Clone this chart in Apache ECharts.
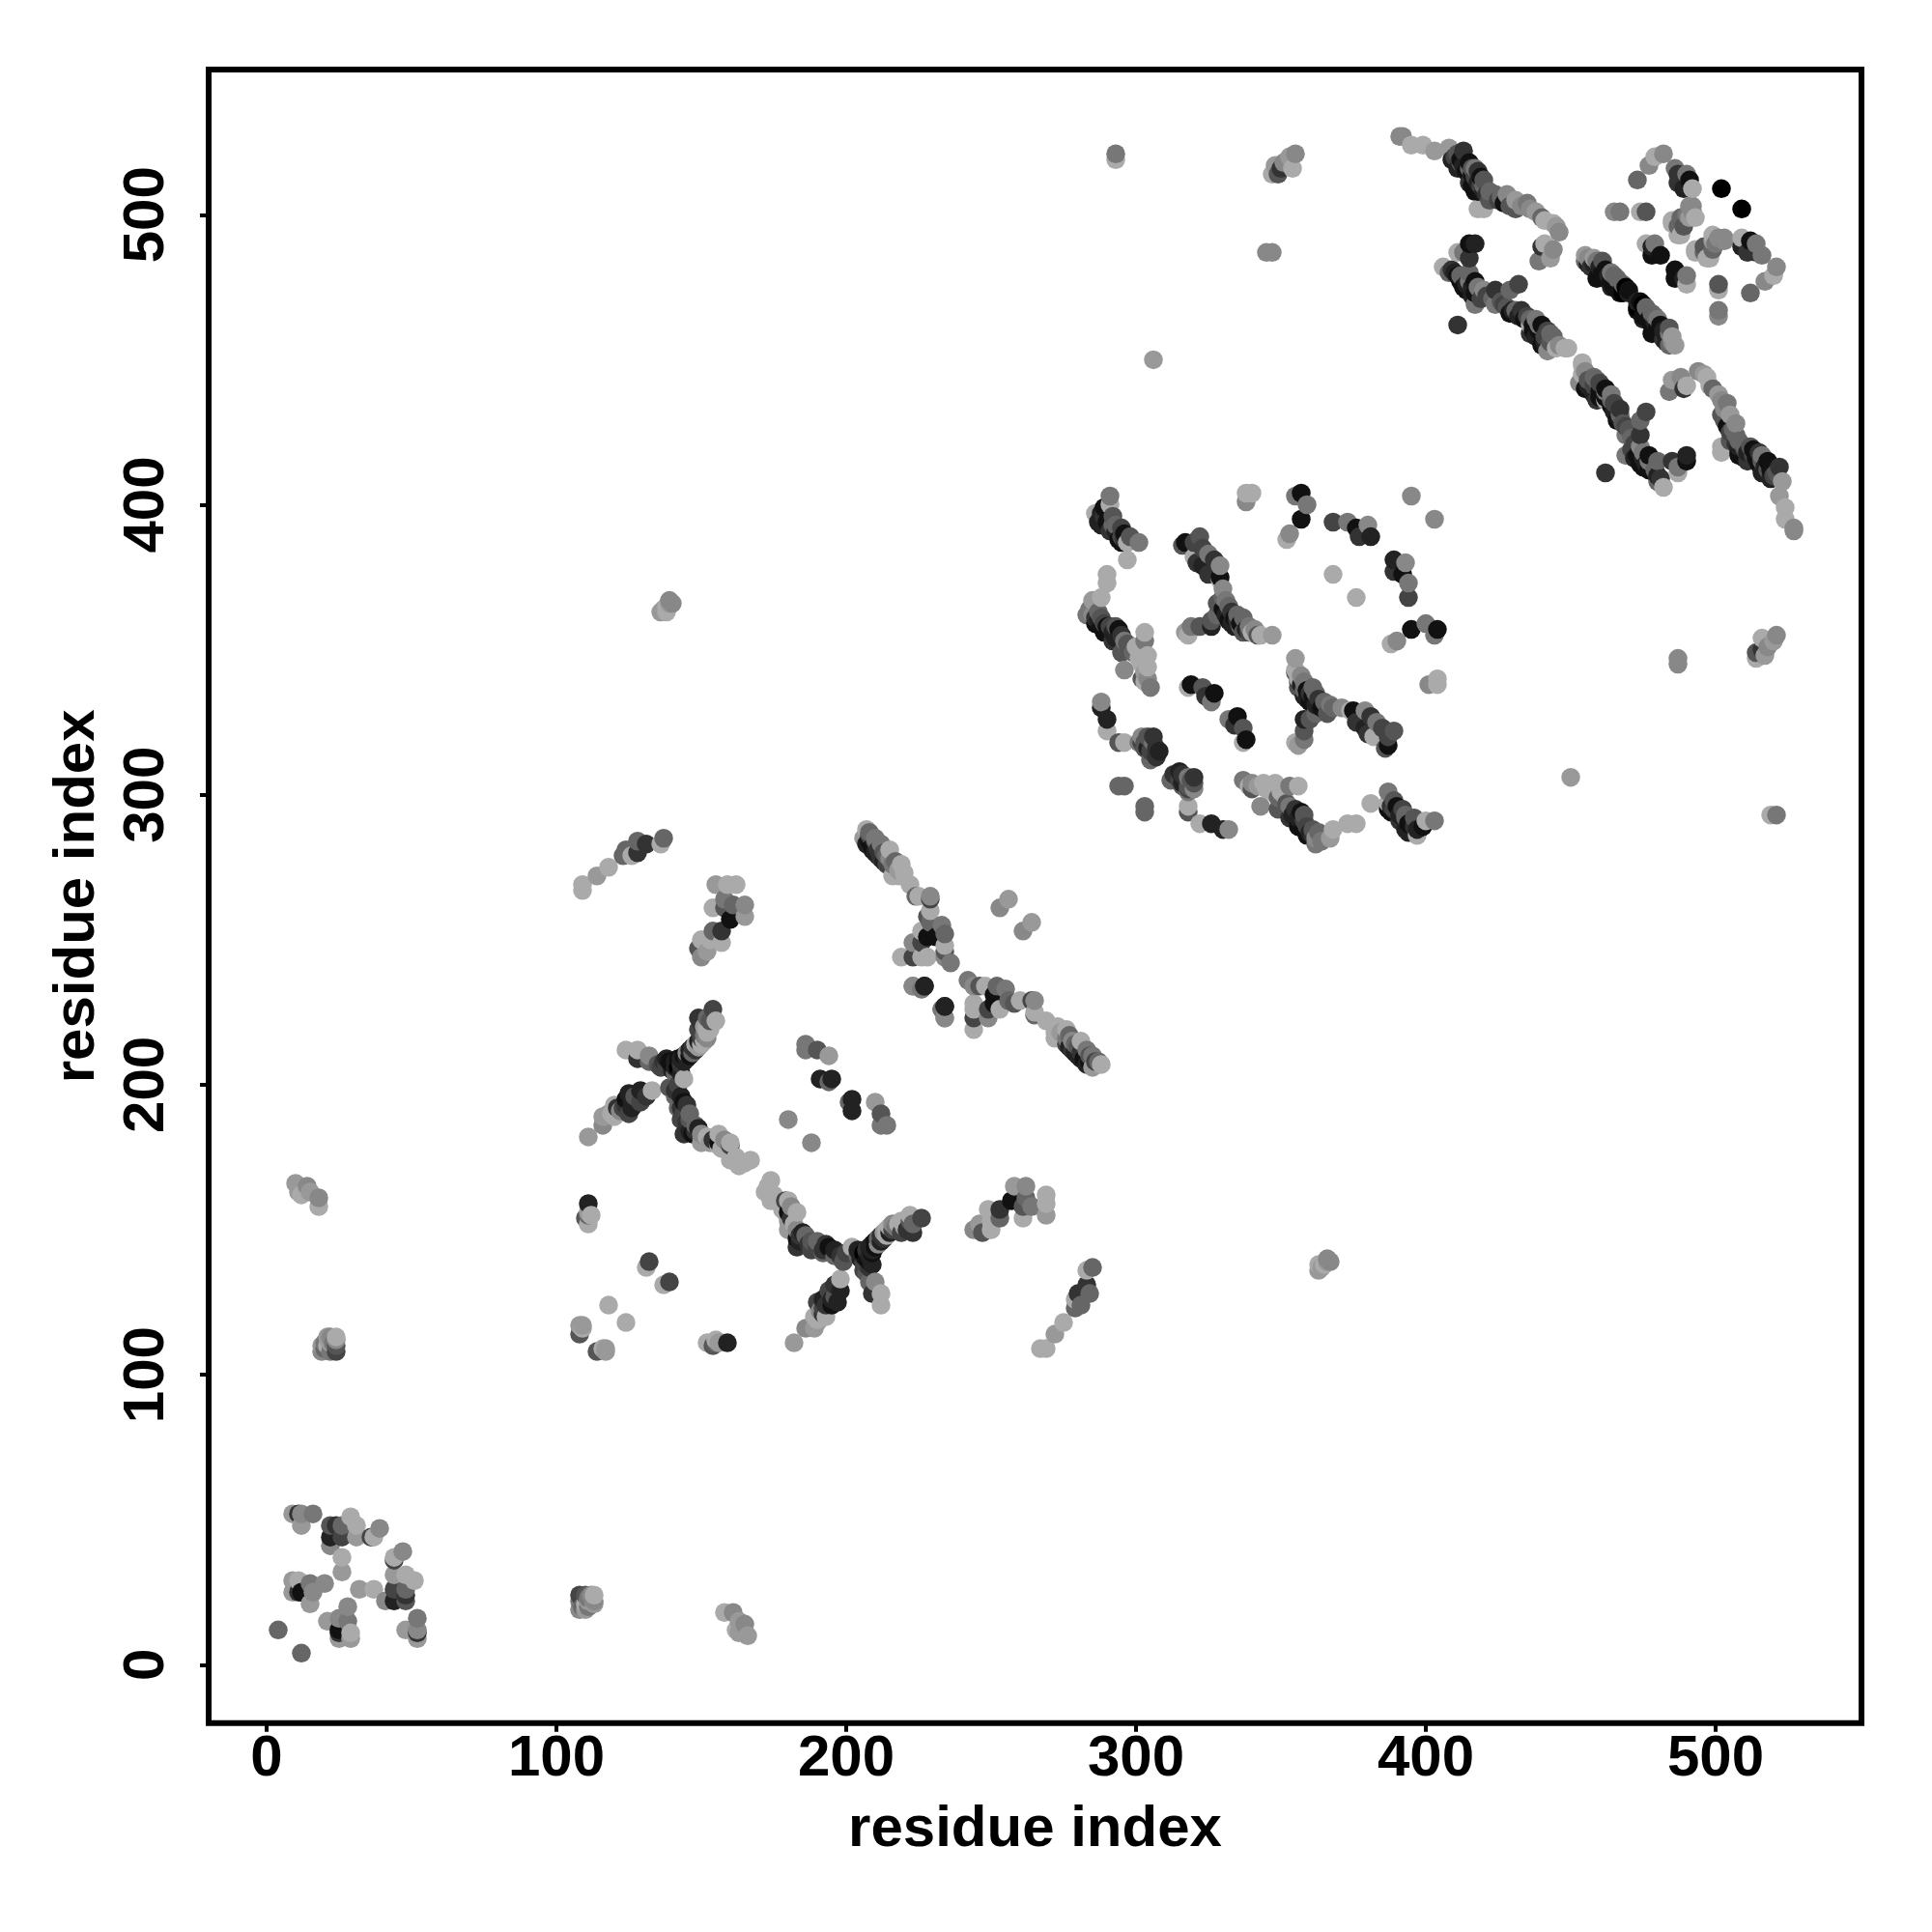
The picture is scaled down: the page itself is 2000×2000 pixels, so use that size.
<!DOCTYPE html>
<html><head><meta charset="utf-8">
<script src="https://cdn.jsdelivr.net/npm/echarts@6/dist/echarts.min.js"></script>
<style>html,body{margin:0;padding:0;background:#fff}#c{width:2000px;height:2000px}</style>
</head><body><div id="c"></div>
<script>
// Each contact: [residue i, residue j, shade 0 (black) .. 10 (light grey)]
var xTicks=[0,100,200,300,400,500];
var yTicks=[0,100,200,300,400,500];
var axisTitle="residue index";
var contactsA=[[4,12,6],[9,52,9],[11,52,3],[12,52,8],[16,52,7],[12,48,9],[22,48,5],[24,48,3],[22,44,2],[22,41,8],[26,48,6],[26,44,4],[29,51,10],[31,48,10],[31,44,9],[26,37,10],[26,32,9],[36,44,4],[37,44,10],[39,47,8],[11,29,10],[9,29,9],[9,25,9],[11,25,3],[12,25,1],[15,28,7],[20,28,8],[16,25,8],[15,21,9]];
var contactsB=[[19,108,8],[20,109,6],[22,108,7],[24,108,4],[24,110,5],[21,110,10],[22,111,9],[24,112,8],[24,113,10],[21,113,9],[22,113,8],[23,111,7],[20,111,7],[19,110,9],[10,166,9],[11,163,9],[12,162,10],[14,165,8],[15,163,9],[18,161,8],[18,158,10],[136,363,9],[137,364,9],[138,365,10],[139,367,8],[138,363,10],[139,366,9],[140,366,8]];
var contactsC=[[109,267,10],[109,269,10],[114,272,9],[118,275,10],[123,279,6],[124,281,6],[126,279,10],[128,280,3],[128,284,6],[131,283,3],[136,283,10],[137,285,6]];
var contactsD=[[165,258,9],[165,262,8],[160,257,1],[161,262,6],[154,261,10],[158,261,5],[158,264,7],[162,269,10],[159,269,10],[155,269,9],[157,253,3],[154,253,6],[157,249,10],[150,250,10],[152,246,9],[150,244,8],[149,247,5],[153,250,10]];
var contactsE=[[111,182,9],[116,186,8],[116,189,9],[120,193,10],[120,189,10],[119,190,10],[122,191,8],[125,190,4],[124,193,3],[125,197,2],[127,196,5],[129,194,4],[129,198,2],[131,196,3],[133,198,10],[124,212,10],[128,212,10],[128,209,3],[132,210,8],[132,208,6],[137,208,3],[138,207,4],[139,206,4],[140,207,1],[141,208,2],[142,209,1],[143,209,2],[144,210,1],[145,211,8],[146,212,2],[147,213,3],[148,214,10],[149,215,2],[150,214,10],[151,217,7],[152,218,10],[149,219,4],[150,221,3],[149,223,3],[152,223,6],[153,219,10],[154,226,4],[155,222,10],[126,192,2],[123,192,4],[121,192,3],[118,190,9],[124,195,1],[126,195,2],[135,207,5],[136,206,4],[138,209,2],[139,208,1],[140,205,2],[141,206,2],[142,206,0],[143,207,3],[144,208,2],[145,209,2],[146,210,1],[147,211,6],[148,212,3],[149,213,9],[150,216,4],[151,215,10],[152,216,8],[151,220,9],[153,222,5],[152,220,10]];
var contactsF=[[144,202,10],[139,199,5],[141,198,3],[142,200,4],[143,204,2],[141,204,6],[144,194,1],[142,192,6],[146,190,6],[148,186,6],[145,187,3],[143,188,4],[147,183,1],[144,183,3],[149,185,2],[152,182,10],[156,183,10],[156,180,1],[150,180,9],[160,180,10],[160,179,4],[156,179,10],[160,174,10],[163,172,10],[167,174,10],[141,196,6],[143,196,2],[145,193,3],[143,192,3],[144,190,4],[146,188,5],[146,184,2],[148,184,3],[150,183,8],[153,180,9],[154,181,3],[158,181,8],[157,178,10],[162,175,10],[165,173,10]];
var contactsG=[[186,214,7],[186,212,7],[190,212,5],[194,210,9],[191,202,2],[194,201,6],[195,202,2],[180,188,8],[110,154,5],[111,152,10],[111,155,6],[111,156,9],[112,155,10],[111,159,2],[132,139,4],[131,137,10],[118,124,10],[109,117,9],[108,114,5],[109,116,10],[108,117,9]];
var contactsH=[[207,288,10],[206,285,9],[208,287,6],[207,283,2],[210,284,5],[212,283,7],[210,280,2],[209,282,1],[211,281,3],[215,281,10],[212,278,3],[214,279,6],[217,277,6],[219,276,10],[216,272,10],[218,272,10],[222,269,10],[224,265,6],[225,265,10],[229,265,8],[229,264,4],[229,260,10],[229,256,6],[228,258,5],[233,255,7],[234,252,6],[226,253,10],[228,251,1],[231,251,1],[223,249,8],[226,249,4],[234,248,10],[234,246,5],[234,244,8],[236,242,7],[219,244,10],[223,244,4],[226,244,10],[228,244,10],[223,234,9],[227,234,2],[226,233,6],[234,227,2],[233,226,7],[234,223,8],[253,261,8],[256,264,9],[208,284,1],[209,281,2],[211,279,2],[213,277,2],[213,280,5],[215,278,8],[216,276,7],[214,276,4],[218,274,9],[220,273,10],[208,286,4],[210,285,7]];
var contactsI=[[291,403,7],[291,400,10],[289,399,1],[286,397,10],[288,397,2],[288,393,2],[287,394,2],[292,393,6],[291,391,3],[295,389,4],[294,388,1],[296,390,1],[297,387,10],[301,387,7],[297,381,10],[322,389,5],[317,387,1],[316,386,5],[320,387,4],[325,383,7],[321,380,3],[320,382,10],[325,376,3],[329,379,8],[329,375,1],[329,374,10],[330,368,6],[328,366,5],[330,364,1],[332,365,6],[335,362,6],[332,360,1],[337,361,6],[334,358,2],[339,358,7],[340,356,10],[337,356,5],[343,355,10],[347,355,9],[326,360,5],[326,358,2],[322,358,5],[319,358,7],[318,355,10],[317,356,9],[338,404,10],[340,404,10],[338,401,8],[357,404,1],[355,403,7],[359,400,7],[357,395,1],[353,390,8],[352,388,10],[395,403,8],[368,394,4],[373,394,7],[376,392,1],[380,393,8],[381,389,2],[377,389,3],[368,376,10],[289,396,3],[290,394,1],[292,396,5],[293,391,2],[295,392,4],[293,393,6],[296,388,3],[298,389,5],[295,387,1],[331,362,2],[333,363,3],[334,361,1],[336,359,1],[335,360,3],[338,357,2],[336,358,6],[339,356,4],[341,357,8],[342,355,5],[333,359,2],[328,362,6],[331,367,7],[330,371,8],[327,381,3],[323,379,2],[323,385,4]];
var contactsJ=[[290,376,10],[290,373,10],[288,368,10],[285,367,9],[283,362,7],[287,363,6],[286,359,1],[288,361,5],[291,358,4],[289,356,1],[294,357,1],[296,353,7],[292,353,3],[295,349,5],[300,351,10],[303,356,10],[303,353,7],[304,348,10],[304,344,10],[296,343,8],[302,340,5],[303,339,10],[305,337,7],[319,338,1],[318,337,10],[323,337,5],[327,335,1],[326,332,7],[324,334,3],[288,332,8],[288,330,2],[290,326,2],[290,322,10],[294,318,5],[296,318,10],[301,318,7],[304,320,5],[306,318,7],[305,319,5],[303,316,5],[307,313,3],[305,312,6],[294,303,6],[296,303,6],[286,361,3],[287,360,2],[289,359,4],[290,358,1],[288,358,1],[292,356,2],[293,354,2],[293,358,5],[295,355,3],[297,352,5],[284,364,7],[285,362,8],[299,349,6],[301,350,10],[301,347,10],[302,345,10],[303,342,9],[304,340,8],[306,320,3],[302,318,4],[304,316,2],[303,318,5],[305,315,4],[307,316,3],[308,315,2],[302,320,8]];
var contactsK=[[355,521,8],[354,516,10],[351,518,8],[350,516,3],[349,514,5],[347,514,10],[348,517,9],[353,520,9],[345,487,8],[347,487,8],[306,450,9],[293,519,10],[293,521,7]];
var contactsL=[[392,527,8],[391,527,8],[395,524,10],[399,524,10],[403,522,9],[408,523,9],[411,521,5],[413,522,3],[409,519,2],[415,518,1],[411,516,2],[416,516,5],[419,513,1],[415,511,3],[420,510,6],[417,508,1],[421,507,3],[424,507,6],[420,502,10],[418,502,10],[428,507,8],[427,504,1],[431,505,9],[435,504,7],[431,502,5],[438,501,9],[440,499,6],[441,498,10],[445,496,9],[446,494,8],[444,497,10],[440,489,3],[444,488,8],[443,485,9],[439,484,7],[441,490,10],[410,520,4],[412,519,1],[413,517,2],[414,515,1],[416,514,1],[417,513,4],[418,511,2],[419,510,4],[416,510,1],[418,508,1],[420,508,2],[422,508,6],[412,518,5],[415,516,6],[417,516,7],[418,515,3],[420,512,5],[422,505,5],[425,505,4],[426,506,6],[429,503,5],[433,503,8],[436,502,8]];
var contactsM=[[417,490,2],[415,490,1],[413,487,7],[411,487,10],[406,482,10],[415,485,3],[409,481,3],[411,479,1],[415,480,6],[413,475,1],[417,477,1],[420,474,8],[417,473,1],[417,469,7],[424,474,3],[429,474,6],[432,476,4],[424,469,7],[428,468,5],[429,466,1],[433,467,3],[435,465,4],[438,464,7],[436,462,10],[440,462,1],[438,458,2],[442,460,4],[444,458,6],[440,455,1],[445,454,10],[448,454,10],[442,453,8],[411,462,3],[449,454,10],[408,480,6],[410,480,2],[412,477,1],[412,479,6],[414,476,2],[415,477,7],[414,474,1],[416,475,2],[418,475,7],[416,472,2],[419,471,4],[421,472,4],[423,471,6],[426,470,5],[427,469,4],[430,467,2],[431,467,6],[432,465,2],[434,464,1],[436,464,6],[437,462,1],[439,460,1],[439,462,7],[441,458,4],[443,459,6],[441,456,2],[443,456,5],[437,460,1],[436,459,3],[446,455,8]];
var contactsN=[[458,485,9],[461,484,5],[457,482,3],[462,481,1],[459,478,1],[465,479,6],[466,478,6],[464,475,2],[469,475,0],[467,473,1],[482,521,8],[479,520,10],[477,517,8],[473,512,6],[486,516,7],[487,514,3],[490,514,7],[487,511,3],[491,512,1],[489,509,2],[492,509,10],[502,509,0],[465,501,8],[467,501,7],[474,501,10],[476,501,5],[491,503,8],[493,499,10],[490,500,7],[488,499,6],[485,498,10],[487,496,6],[487,493,10],[476,490,10],[478,489,2],[478,486,1],[481,486,1],[479,490,7],[493,488,10],[497,485,10],[496,489,5],[499,491,9],[503,492,8],[501,492,8],[455,486,9],[456,485,8],[455,484,6],[456,483,2],[458,483,2],[460,482,2],[459,484,7],[461,480,1],[463,479,2],[464,480,7],[462,478,1],[464,477,1],[466,476,1],[468,476,6],[465,475,1],[468,473,0],[470,474,1],[470,473,2]];
var all=[].concat(contactsA,contactsB,contactsC,contactsD,contactsE,contactsF,contactsG,contactsH,contactsI,contactsJ,contactsK,contactsL,contactsM,contactsN);
var pts=[];
all.forEach(function(c){pts.push([c[0],c[1],c[2]]);pts.push([c[1],c[0],c[2]]);});
pts.sort(function(a,b){return a[0]-b[0]||a[1]-b[1];});
var font="Liberation Sans";
function axis(ticks,margin,rot,gap,min,max){return {type:'value',min:min,max:max,
 splitLine:{show:false},axisLine:{show:false,onZero:false},
 axisTick:{show:true,length:9,lineStyle:{color:'#000',width:4},customValues:ticks},
 axisLabel:{show:true,customValues:ticks,margin:margin,rotate:rot,color:'#000',fontFamily:font,fontWeight:'bold',fontSize:60,formatter:function(v){return String(v);}},
 name:axisTitle,nameLocation:'middle',nameGap:gap,nameTextStyle:{color:'#000',fontFamily:font,fontWeight:'bold',fontSize:60}};}
var chart=echarts.init(document.getElementById('c'),null,{renderer:'canvas'});
chart.setOption({animation:false,backgroundColor:'#fff',
 grid:{left:216,top:72,width:1711,height:1711.7,show:true,borderColor:'#000',borderWidth:6,backgroundColor:'transparent'},
 xAxis:axis(xTicks,8,0,81,-20,550.33),
 yAxis:axis(yTicks,34,90,106,-20.12,550.07),
 series:[{type:'scatter',symbol:'circle',symbolSize:19.5,data:pts,silent:true,large:false,progressive:0,
  itemStyle:{opacity:1,color:function(p){var g=p.value[2]*17;return 'rgb('+g+','+g+','+g+')';}}}]});
</script></body></html>
